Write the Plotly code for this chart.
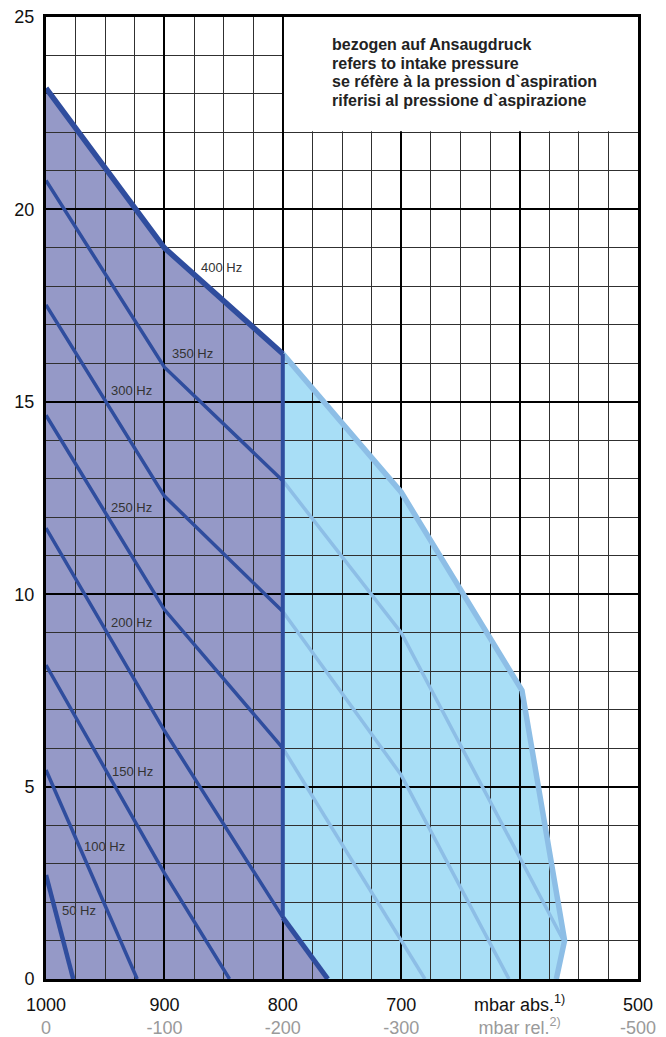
import plotly.graph_objects as go

# ---------------- data ----------------
freq_labels = ["50 Hz", "100 Hz", "150 Hz", "200 Hz", "250 Hz", "300 Hz", "350 Hz", "400 Hz"]

# curves in the 1000..800 mbar abs range (dark part)
hz50_x = [1000, 977]
hz50_y = [2.7, 0.0]
hz100_x = [1000, 923]
hz100_y = [5.43, 0.0]
hz150_x = [1000, 900, 845]
hz150_y = [8.16, 2.75, 0.0]
hz200_x = [1000, 900, 800]
hz200_y = [11.72, 6.45, 1.6]
hz200_tail_x = [800, 762]
hz200_tail_y = [1.6, 0.0]
hz250_x = [1000, 900, 800]
hz250_y = [14.65, 9.6, 6.0]
hz300_x = [1000, 900, 800]
hz300_y = [17.52, 12.55, 9.55]
hz350_x = [1000, 900, 800]
hz350_y = [20.75, 15.9, 12.95]
hz400_x = [1000, 900, 800]
hz400_y = [23.15, 19.0, 16.25]

# continuation below 800 mbar abs (light part)
hz250_ext_x = [800, 680]
hz250_ext_y = [6.0, 0.0]
hz300_ext_x = [800, 700, 609]
hz300_ext_y = [9.55, 5.3, 0.0]
hz350_ext_x = [800, 700, 563]
hz350_ext_y = [12.95, 9.0, 1.0]
hz400_ext_x = [800, 700, 598, 562, 569]
hz400_ext_y = [16.25, 12.65, 7.5, 1.0, 0.0]

abs_ticks = [1000, 900, 800, 700, 600, 500]
abs_labels = ["1000", "900", "800", "700", "mbar abs.<sup>1)</sup>", "500"]
rel_labels = ["0", "-100", "-200", "-300", "mbar rel.<sup>2)</sup>", "-500"]
y_ticks = [0, 5, 10, 15, 20, 25]

note_lines = [
    "bezogen auf Ansaugdruck",
    "refers to intake pressure",
    "se réfère à la pression d`aspiration",
    "riferisi al pressione d`aspirazione",
]

# ---------------- styles ----------------
FONT = "Liberation Sans, Arial, sans-serif"
DARK_FILL = "#9599C7"
LIGHT_FILL = "#A8DEF6"
DARK_LINE = "#2F4D9E"
LIGHT_LINE = "#8DBEE6"
REL_COLOR = "#9A9A9A"

# label anchor positions (x mbar, y) for the Hz labels
label_pos = {
    "50 Hz": (972, 1.78), "100 Hz": (951, 3.44), "150 Hz": (927, 5.39),
    "200 Hz": (927.5, 9.26), "250 Hz": (927.5, 12.26), "300 Hz": (927.5, 15.29),
    "350 Hz": (876, 16.26), "400 Hz": (851.5, 18.48),
}
# note box: paper-x of text start, paper-y of each line centre
NOTE_X = 0.4797
NOTE_Y = [0.9709, 0.9518, 0.9327, 0.9137]

fig = go.Figure()

# ---- filled areas (bottom subplot xy) ----
dark_x = [hz400_x[0]] + hz400_x + hz200_tail_x + [hz400_x[0]]
dark_y = [hz200_tail_y[-1]] + hz400_y + hz200_tail_y + [hz200_tail_y[-1]]
light_x = hz400_ext_x + hz200_tail_x[::-1] + [hz400_ext_x[0]]
light_y = hz400_ext_y + hz200_tail_y[::-1] + [hz400_ext_y[0]]

fig.add_trace(go.Scatter(x=dark_x, y=dark_y, fill="toself", fillcolor=DARK_FILL,
                         mode="lines", line=dict(width=0), hoverinfo="skip",
                         showlegend=False, xaxis="x", yaxis="y"))
fig.add_trace(go.Scatter(x=light_x, y=light_y, fill="toself", fillcolor=LIGHT_FILL,
                         mode="lines", line=dict(width=0), hoverinfo="skip",
                         showlegend=False, xaxis="x", yaxis="y"))

# ---- curves (top subplot x2y2, above the grid) ----
def add_line(xs, ys, color, width):
    fig.add_trace(go.Scatter(x=xs, y=ys, mode="lines",
                             line=dict(color=color, width=width),
                             hoverinfo="skip", showlegend=False,
                             xaxis="x2", yaxis="y2"))

for xs, ys in [(hz250_ext_x, hz250_ext_y), (hz300_ext_x, hz300_ext_y),
               (hz350_ext_x, hz350_ext_y)]:
    add_line(xs, ys, LIGHT_LINE, 3.5)
add_line(hz400_ext_x, hz400_ext_y, LIGHT_LINE, 5.5)

add_line(hz50_x, hz50_y, DARK_LINE, 4.5)
for xs, ys in [(hz100_x, hz100_y), (hz150_x, hz150_y), (hz200_x, hz200_y),
               (hz250_x, hz250_y), (hz300_x, hz300_y), (hz350_x, hz350_y)]:
    add_line(xs, ys, DARK_LINE, 3.5)
add_line(hz200_tail_x, hz200_tail_y, DARK_LINE, 5)
add_line([hz400_x[-1], hz200_x[-1]], [hz400_y[-1], hz200_y[-1]], DARK_LINE, 4)
add_line(hz400_x, hz400_y, DARK_LINE, 5.5)

# ---- Hz labels ----
annotations = []
for lab in freq_labels:
    lx, ly = label_pos[lab]
    annotations.append(dict(x=lx, y=ly, xref="x2", yref="y2", text=lab,
                            showarrow=False, font=dict(family=FONT, size=13, color="#333333"),
                            xanchor="center", yanchor="middle"))

# ---- note text box ----
for line, ny in zip(note_lines, NOTE_Y):
    annotations.append(dict(x=NOTE_X, y=ny, xref="paper", yref="paper",
                            text=f"<b>{line}</b>", showarrow=False, align="left",
                            xanchor="left", yanchor="middle",
                            font=dict(family=FONT, size=16, color="#222222")))

tick_text = [f"{a}<br><span style='color:{REL_COLOR}'>{r}</span>"
             for a, r in zip(abs_labels, rel_labels)]

# the page body adds an 8 px margin, so the figure is 8 px smaller and shifted
fig.update_layout(
    width=658, height=1029,
    margin=dict(l=38, r=28, t=9, b=58),
    paper_bgcolor="white", plot_bgcolor="rgba(0,0,0,0)",
    font=dict(family=FONT, size=18, color="#111111"),
    showlegend=False,
    xaxis=dict(range=[1000, 500], visible=False, domain=[0, 1], automargin=False),
    yaxis=dict(range=[0, 25], visible=False, domain=[0, 1], automargin=False),
    xaxis2=dict(range=[1000, 500], domain=[0, 1], anchor="y2", automargin=False,
                tickmode="array", tickvals=abs_ticks, ticktext=tick_text,
                showgrid=True, gridcolor="#000000", gridwidth=2,
                minor=dict(tickmode="linear", tick0=500, dtick=25, showgrid=True,
                           gridcolor="#303030", gridwidth=1, ticks=""),
                showline=True, linecolor="#000000", linewidth=3, mirror=True,
                ticks="", ticklabelstandoff=7, zeroline=False, ticklabeloverflow="allow",
                tickfont=dict(family=FONT, size=18, color="#111111")),
    yaxis2=dict(range=[0, 25], domain=[0, 1], anchor="x2", automargin=False,
                tickmode="array", tickvals=y_ticks,
                showgrid=True, gridcolor="#000000", gridwidth=2,
                minor=dict(tickmode="linear", tick0=0, dtick=1, showgrid=True,
                           gridcolor="#303030", gridwidth=1, ticks=""),
                showline=True, linecolor="#000000", linewidth=3, mirror=True,
                ticks="", ticklabelstandoff=5, zeroline=False, ticklabeloverflow="allow",
                tickfont=dict(family=FONT, size=18, color="#111111")),
    annotations=annotations,
    shapes=[dict(type="rect", xref="x2", yref="y2", x0=799, x1=500, y0=22.03, y1=25,
                 fillcolor="white", line=dict(width=0), layer="between")],
)

fig.write_html("out.html")
